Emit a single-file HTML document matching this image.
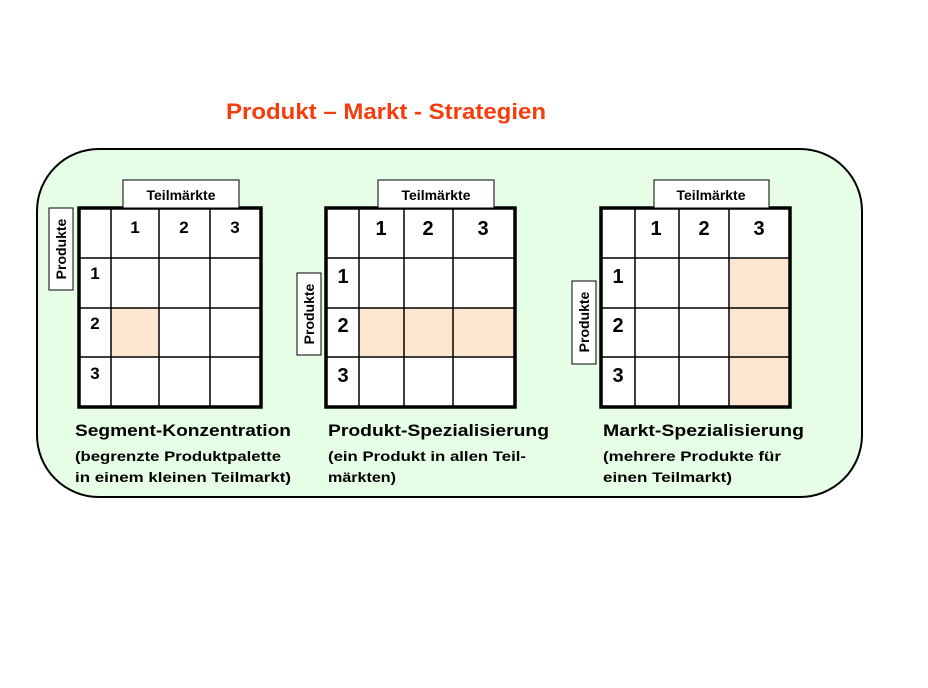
<!DOCTYPE html>
<html><head><meta charset="utf-8"><style>
html,body{margin:0;padding:0;background:#fff;width:928px;height:688px;overflow:hidden}
text{font-family:"Liberation Sans",Arial,sans-serif;font-weight:bold}
</style></head><body>
<svg width="928" height="688" viewBox="0 0 928 688" xmlns="http://www.w3.org/2000/svg">
<text x="226" y="119" font-size="22" fill="#f53c0c" textLength="320" lengthAdjust="spacingAndGlyphs">Produkt – Markt - Strategien</text>
<rect x="37" y="149" width="825" height="348" rx="62" ry="62" fill="#e6fde6" stroke="#000" stroke-width="2"/>

<!-- Table 1 -->
<rect x="79" y="208" width="182" height="199" fill="#fff"/>
<rect x="111" y="308" width="48" height="49" fill="#fde6d0"/>
<g stroke="#000" stroke-width="1.5" fill="none">
<line x1="111" y1="208" x2="111" y2="407"/><line x1="159" y1="208" x2="159" y2="407"/><line x1="210" y1="208" x2="210" y2="407"/>
<line x1="79" y1="258" x2="261" y2="258"/><line x1="79" y1="308" x2="261" y2="308"/><line x1="79" y1="357" x2="261" y2="357"/>
</g>
<rect x="79" y="208" width="182" height="199" fill="none" stroke="#000" stroke-width="3.5"/>
<rect x="123" y="180" width="116" height="28" fill="#fff" stroke="#000" stroke-width="1"/>
<text x="181" y="200" font-size="14" text-anchor="middle">Teilmärkte</text>
<rect x="49" y="208" width="24" height="82" fill="#fff" stroke="#000" stroke-width="1"/>
<text transform="translate(66,249) rotate(-90)" font-size="14" text-anchor="middle">Produkte</text>
<g font-size="17" text-anchor="middle">
<text x="135" y="233">1</text><text x="184" y="233">2</text><text x="235" y="233">3</text>
<text x="95" y="279">1</text><text x="95" y="329">2</text><text x="95" y="379">3</text>
</g>

<!-- Table 2 -->
<rect x="326" y="208" width="189" height="199" fill="#fff"/>
<rect x="359" y="308" width="156" height="49" fill="#fde6d0"/>
<g stroke="#000" stroke-width="1.5" fill="none">
<line x1="359" y1="208" x2="359" y2="407"/><line x1="404" y1="208" x2="404" y2="407"/><line x1="453" y1="208" x2="453" y2="407"/>
<line x1="326" y1="258" x2="515" y2="258"/><line x1="326" y1="308" x2="515" y2="308"/><line x1="326" y1="357" x2="515" y2="357"/>
</g>
<rect x="326" y="208" width="189" height="199" fill="none" stroke="#000" stroke-width="3.5"/>
<rect x="378" y="180" width="116" height="28" fill="#fff" stroke="#000" stroke-width="1"/>
<text x="436" y="200" font-size="14" text-anchor="middle">Teilmärkte</text>
<rect x="297" y="273" width="24" height="82" fill="#fff" stroke="#000" stroke-width="1"/>
<text transform="translate(314,314) rotate(-90)" font-size="14" text-anchor="middle">Produkte</text>
<g font-size="20" text-anchor="middle">
<text x="381" y="235">1</text><text x="428" y="235">2</text><text x="483" y="235">3</text>
<text x="343" y="283">1</text><text x="343" y="332">2</text><text x="343" y="382">3</text>
</g>

<!-- Table 3 -->
<rect x="601" y="208" width="189" height="199" fill="#fff"/>
<rect x="729" y="258" width="61" height="149" fill="#fde6d0"/>
<g stroke="#000" stroke-width="1.5" fill="none">
<line x1="635" y1="208" x2="635" y2="407"/><line x1="679" y1="208" x2="679" y2="407"/><line x1="729" y1="208" x2="729" y2="407"/>
<line x1="601" y1="258" x2="790" y2="258"/><line x1="601" y1="308" x2="790" y2="308"/><line x1="601" y1="357" x2="790" y2="357"/>
</g>
<rect x="601" y="208" width="189" height="199" fill="none" stroke="#000" stroke-width="3.5"/>
<rect x="654" y="180" width="115" height="28" fill="#fff" stroke="#000" stroke-width="1"/>
<text x="711" y="200" font-size="14" text-anchor="middle">Teilmärkte</text>
<rect x="572" y="281" width="24" height="83" fill="#fff" stroke="#000" stroke-width="1"/>
<text transform="translate(589,322) rotate(-90)" font-size="14" text-anchor="middle">Produkte</text>
<g font-size="20" text-anchor="middle">
<text x="656" y="235">1</text><text x="704" y="235">2</text><text x="759" y="235">3</text>
<text x="618" y="283">1</text><text x="618" y="332">2</text><text x="618" y="382">3</text>
</g>

<!-- Captions -->
<g font-size="17">
<text x="75" y="436" textLength="216" lengthAdjust="spacingAndGlyphs">Segment-Konzentration</text>
<text x="328" y="436" textLength="221" lengthAdjust="spacingAndGlyphs">Produkt-Spezialisierung</text>
<text x="603" y="436" textLength="201" lengthAdjust="spacingAndGlyphs">Markt-Spezialisierung</text>
</g>
<g font-size="14">
<text x="75" y="461" textLength="206" lengthAdjust="spacingAndGlyphs">(begrenzte Produktpalette</text>
<text x="75" y="482" textLength="216" lengthAdjust="spacingAndGlyphs">in einem kleinen Teilmarkt)</text>
<text x="328" y="461" textLength="198" lengthAdjust="spacingAndGlyphs">(ein Produkt in allen Teil-</text>
<text x="328" y="482" textLength="68" lengthAdjust="spacingAndGlyphs">märkten)</text>
<text x="603" y="461" textLength="178" lengthAdjust="spacingAndGlyphs">(mehrere Produkte für</text>
<text x="603" y="482" textLength="129" lengthAdjust="spacingAndGlyphs">einen Teilmarkt)</text>
</g>
</svg>
</body></html>
